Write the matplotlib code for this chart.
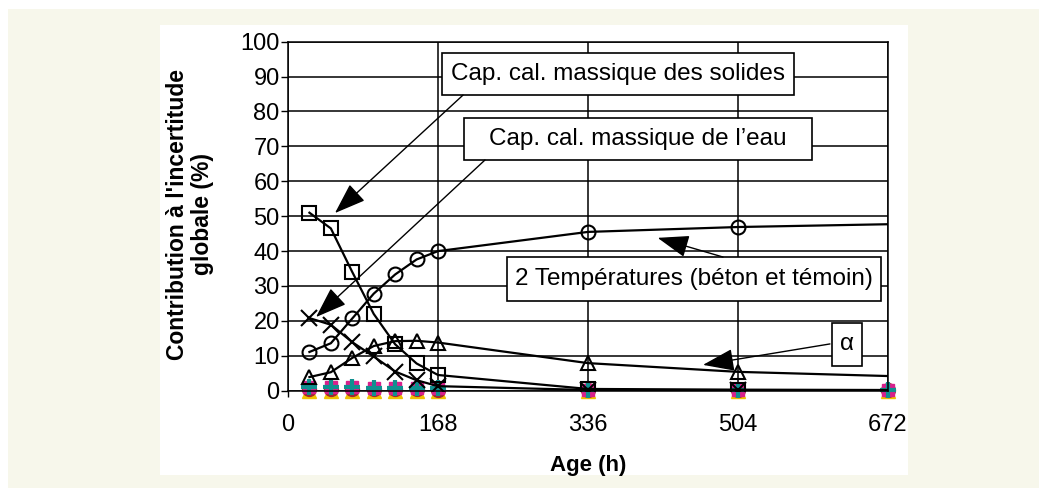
import matplotlib.pyplot as plt
from matplotlib.patches import Rectangle

plt.rcParams['font.family'] = ['Liberation Sans', 'DejaVu Sans']

# ages (h)
age = [24, 48, 72, 96, 120, 144, 168, 336, 504, 672]

# contributions (%)
solides = [51.0, 46.5, 34.0, 22.0, 13.3, 7.8, 4.5, 0.5, 0.3, 0.2]
temperatures = [11.1, 13.6, 20.7, 27.8, 33.3, 37.6, 40.0, 45.5, 46.9, 47.7]
alpha = [3.9, 5.3, 9.4, 12.8, 14.2, 14.3, 13.8, 7.9, 5.4, 4.2]
eau = [20.8, 18.9, 13.9, 9.8, 5.5, 3.0, 1.3, 0.2, 0.1, 0.1]

# the small contributions sitting near zero
autres_jaune = [0.0, 0.0, 0.0, 0.0, 0.0, 0.0, 0.0, 0.0, 0.0, 0.0]
autres_rouge = [0.5, 0.5, 0.5, 0.4, 0.4, 0.4, 0.3, 0.1, 0.1, 0.1]
autres_magenta = [1.2, 1.2, 1.2, 0.9, 0.9, 0.9, 0.7, 0.3, 0.3, 0.3]
autres_sarcelle = [1.2, 1.2, 1.2, 0.9, 0.9, 0.9, 0.8, 0.3, 0.3, 0.3]

xticks = [0, 168, 336, 504, 672]
yticks = list(range(0, 101, 10))

fig = plt.figure(figsize=(10.47, 4.95), dpi=100)
fig.patch.set_facecolor('white')
W, H = 1047, 495
fig.patches.append(Rectangle((8 / W, 1 - 488 / H), 1031 / W, 479 / H,
                             transform=fig.transFigure, fc='#F7F7EB', ec='none', zorder=-10))
fig.patches.append(Rectangle((160 / W, 1 - 475 / H), 748 / W, 450 / H,
                             transform=fig.transFigure, fc='white', ec='none', zorder=-9))

ax = fig.add_axes([288 / W, 1 - 390.7 / H, 600 / W, 349 / H])
ax.set_facecolor('none')

# colored series near zero (markers only)
ax.plot(age, autres_jaune, marker='^', color='#F0C000', ms=10, ls='none', zorder=2, clip_on=False)
ax.plot(age, autres_rouge, marker='o', color='#A02830', ms=10, ls='none', zorder=2, clip_on=False)
ax.plot(age, autres_magenta, marker='s', color='#D8208C', ms=9, ls='none', zorder=2, clip_on=False)
ax.plot(age, autres_sarcelle, marker='+', color='#109090', ms=11, mew=3, ls='none', zorder=2,
        clip_on=False)

noir = dict(color='black', lw=1.6, mfc='none', mec='black', mew=1.5,
            markevery=list(range(9)), zorder=3)
ax.plot(age, solides, marker='s', ms=10, **noir)
ax.plot(age, temperatures, marker='o', ms=10, **noir)
ax.plot(age, alpha, marker='^', ms=10, **noir)
ax.plot(age, eau, marker='x', ms=11, **noir)

ax.set_xlim(0, 672)
ax.set_ylim(0, 100)
ax.set_xticks(xticks)
ax.set_yticks(yticks)
ax.grid(True, color='black', lw=1.1)
for s in ax.spines.values():
    s.set_color('black')
    s.set_linewidth(1.1)
ax.tick_params(axis='y', direction='out', length=5, width=1, pad=1, labelsize=17)
ax.tick_params(axis='x', direction='out', length=4, width=1, pad=13, labelsize=17)

# annotation boxes: (text, x0, x1, y0, y1) and arrows (start, tip)
boites = [
    ('Cap. cal. massique des solides', 172.5, 566.7, 84.7, 96.8),
    ('Cap. cal. massique de l\u2019eau', 197.1, 586.9, 66.1, 78.1),
    ('2 Températures (béton et témoin)', 245.3, 664.2, 25.7, 38.3),
    ('\u03b1', 609.3, 642.9, 7.1, 19.4),
]
fleches = [
    ((196, 84.7), (52.6, 50.9)),
    ((220.6, 66.1), (31.4, 21.1)),
    ((487.2, 38.3), (414, 43.8)),
    ((607, 13.4), (464.8, 7.4)),
]
for (txt, x0, x1, y0, y1) in boites:
    ax.add_patch(Rectangle((x0, y0), x1 - x0, y1 - y0, fc='white', ec='black',
                           lw=1.2, zorder=5, clip_on=False))
    ax.text((x0 + x1) / 2, (y0 + y1) / 2, txt, ha='center', va='center',
            fontsize=17.5, zorder=6)
for (start, tip) in fleches:
    ax.annotate('', xy=tip, xytext=start, zorder=7,
                arrowprops=dict(arrowstyle='-|>,head_length=1.4,head_width=0.5',
                                color='black', lw=1, shrinkA=0, shrinkB=0,
                                mutation_scale=14))

fig.text(190 / W, 1 - 214 / H, "Contribution à l'incertitude\nglobale (%)",
         rotation=90, ha='center', va='center', fontsize=16.5, fontweight='bold',
         multialignment='center', linespacing=1.15)
fig.text(588 / W, 1 - 466 / H, 'Age (h)', ha='center', va='center',
         fontsize=16, fontweight='bold')

fig.savefig('out.png', dpi=100)
